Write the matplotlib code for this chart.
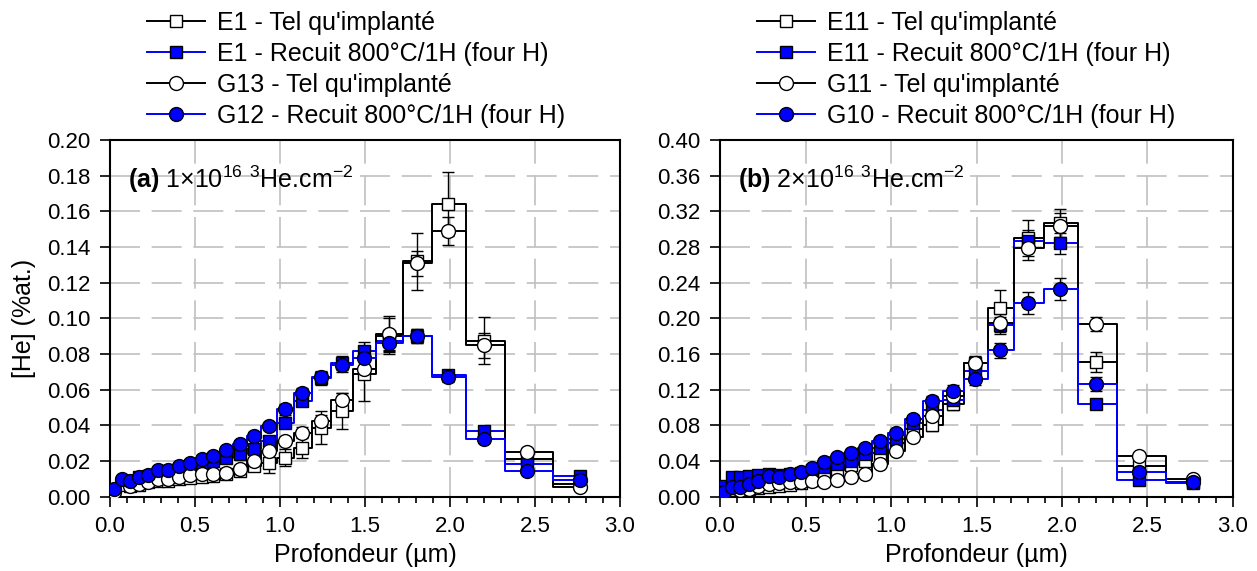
import numpy as np
import matplotlib
matplotlib.use('Agg')
import matplotlib.pyplot as plt
from matplotlib.ticker import MultipleLocator

plt.rcParams['font.family'] = ['Liberation Sans', 'DejaVu Sans']
plt.rcParams['mathtext.fontset'] = 'custom'
plt.rcParams['mathtext.rm'] = 'Liberation Sans'
plt.rcParams['mathtext.bf'] = 'Liberation Sans:bold'

# depth bins (µm), same for every sample
depth = [0.024, 0.069, 0.118, 0.172, 0.225, 0.284, 0.343, 0.408, 0.471, 0.539,
         0.608, 0.682, 0.765, 0.847, 0.935, 1.029, 1.131, 1.241, 1.363, 1.494,
         1.639, 1.804, 1.986, 2.198, 2.451, 2.765]

# (a) 1e16 3He/cm2
e1_impl = [0.0024, 0.007, 0.0062, 0.0067, 0.008, 0.0086, 0.009, 0.0099, 0.0105, 0.0112,
           0.0118, 0.0127, 0.0146, 0.0174, 0.0192, 0.022, 0.0276, 0.0388, 0.0482, 0.0687,
           0.090, 0.132, 0.164, 0.0875, 0.021, 0.007]
e1_impl_err = [0.0005, 0.001, 0.001, 0.001, 0.001, 0.001, 0.001, 0.001, 0.0012, 0.0012,
               0.0012, 0.0013, 0.0015, 0.003, 0.006, 0.005, 0.006, 0.009, 0.010, 0.015,
               0.010, 0.016, 0.018, 0.013, 0.003, 0.002]
e1_rec = [0.0034, 0.008, 0.009, 0.0108, 0.0118, 0.0136, 0.0142, 0.0155, 0.0174, 0.0187,
          0.020, 0.022, 0.0239, 0.0267, 0.0314, 0.0416, 0.0538, 0.0665, 0.075, 0.0818,
          0.0875, 0.090, 0.068, 0.037, 0.0183, 0.0118]
e1_rec_err = [0.0005, 0.001, 0.001, 0.001, 0.001, 0.001, 0.001, 0.001, 0.001, 0.001,
              0.001, 0.0015, 0.0015, 0.002, 0.002, 0.003, 0.003, 0.004, 0.004, 0.005,
              0.005, 0.004, 0.003, 0.002, 0.001, 0.001]
g13_impl = [0.0024, 0.007, 0.0062, 0.0071, 0.008, 0.0099, 0.0099, 0.0112, 0.0123, 0.0127,
            0.0127, 0.0136, 0.0155, 0.0198, 0.0258, 0.0314, 0.036, 0.0426, 0.0542, 0.0715,
            0.0911, 0.131, 0.149, 0.085, 0.0252, 0.0056]
g13_impl_err = [0.0005, 0.001, 0.001, 0.001, 0.001, 0.001, 0.001, 0.001, 0.001, 0.001,
                0.001, 0.001, 0.0012, 0.0015, 0.002, 0.002, 0.003, 0.003, 0.004, 0.005,
                0.010, 0.007, 0.008, 0.007, 0.002, 0.001]
g12_rec = [0.0043, 0.0099, 0.0086, 0.0112, 0.0123, 0.0149, 0.0149, 0.0174, 0.0192, 0.0211,
           0.0230, 0.0261, 0.0295, 0.0342, 0.0394, 0.0491, 0.0579, 0.0669, 0.0739, 0.0777,
           0.0859, 0.0899, 0.0673, 0.0323, 0.0142, 0.0093]
g12_rec_err = [0.0005, 0.001, 0.001, 0.001, 0.001, 0.001, 0.001, 0.001, 0.001, 0.001,
               0.001, 0.0015, 0.0015, 0.002, 0.002, 0.003, 0.003, 0.003, 0.004, 0.004,
               0.004, 0.004, 0.003, 0.002, 0.001, 0.001]

# (b) 2e16 3He/cm2
e11_impl = [0.004, 0.008, 0.008, 0.009, 0.010, 0.011, 0.012, 0.013, 0.015, 0.019,
            0.024, 0.030, 0.036, 0.040, 0.049, 0.060, 0.076, 0.080, 0.104, 0.150,
            0.212, 0.290, 0.307, 0.151, 0.035, 0.017]
e11_impl_err = [0.001, 0.001, 0.001, 0.001, 0.001, 0.001, 0.001, 0.001, 0.001, 0.002,
                0.002, 0.002, 0.003, 0.003, 0.004, 0.004, 0.005, 0.006, 0.007, 0.008,
                0.020, 0.020, 0.016, 0.011, 0.003, 0.002]
e11_rec = [0.012, 0.022, 0.022, 0.023, 0.024, 0.026, 0.024, 0.025, 0.027, 0.030,
           0.033, 0.037, 0.040, 0.048, 0.055, 0.065, 0.083, 0.097, 0.109, 0.141,
           0.192, 0.287, 0.284, 0.104, 0.019, 0.015]
e11_rec_err = [0.001, 0.001, 0.001, 0.001, 0.001, 0.001, 0.001, 0.001, 0.001, 0.002,
               0.002, 0.002, 0.002, 0.003, 0.003, 0.004, 0.005, 0.006, 0.006, 0.007,
               0.010, 0.012, 0.012, 0.006, 0.002, 0.002]
g11_impl = [0.003, 0.009, 0.008, 0.009, 0.012, 0.014, 0.015, 0.016, 0.016, 0.018,
            0.017, 0.019, 0.022, 0.025, 0.037, 0.051, 0.067, 0.090, 0.113, 0.150,
            0.195, 0.279, 0.303, 0.194, 0.046, 0.020]
g11_impl_err = [0.001, 0.001, 0.001, 0.001, 0.001, 0.001, 0.001, 0.001, 0.001, 0.001,
                0.001, 0.001, 0.002, 0.002, 0.003, 0.003, 0.004, 0.005, 0.006, 0.007,
                0.010, 0.014, 0.015, 0.008, 0.003, 0.002]
g10_rec = [0.005, 0.011, 0.0105, 0.014, 0.018, 0.0235, 0.022, 0.025, 0.028, 0.032,
           0.039, 0.045, 0.049, 0.0545, 0.062, 0.071, 0.087, 0.107, 0.119, 0.132,
           0.164, 0.217, 0.233, 0.126, 0.028, 0.016]
g10_rec_err = [0.001, 0.001, 0.001, 0.001, 0.001, 0.001, 0.001, 0.001, 0.001, 0.002,
               0.002, 0.002, 0.002, 0.003, 0.003, 0.004, 0.005, 0.006, 0.006, 0.007,
               0.008, 0.012, 0.012, 0.008, 0.002, 0.002]

panels = [
    {'series': [('E1 - Tel qu\'implanté', e1_impl, e1_impl_err, 's', 'white', 'black'),
                ('E1 - Recuit 800°C/1H (four H)', e1_rec, e1_rec_err, 's', 'blue', 'blue'),
                ('G13 - Tel qu\'implanté', g13_impl, g13_impl_err, 'o', 'white', 'black'),
                ('G12 - Recuit 800°C/1H (four H)', g12_rec, g12_rec_err, 'o', 'blue', 'blue')],
     'ymax': 0.20, 'ystep': 0.02,
     'label': r'$\mathbf{(a)}$ 1×10$^{16}$ $^{3}$He.cm$^{-2}$'},
    {'series': [('E11 - Tel qu\'implanté', e11_impl, e11_impl_err, 's', 'white', 'black'),
                ('E11 - Recuit 800°C/1H (four H)', e11_rec, e11_rec_err, 's', 'blue', 'blue'),
                ('G11 - Tel qu\'implanté', g11_impl, g11_impl_err, 'o', 'white', 'black'),
                ('G10 - Recuit 800°C/1H (four H)', g10_rec, g10_rec_err, 'o', 'blue', 'blue')],
     'ymax': 0.40, 'ystep': 0.04,
     'label': r'$\mathbf{(b)}$ 2×10$^{16}$ $^{3}$He.cm$^{-2}$'},
]

fig = plt.figure(figsize=(12.57, 5.71), dpi=100)
axes = [fig.add_axes([0.0875, 0.130, 0.4057, 0.625]),
        fig.add_axes([0.5728, 0.130, 0.4081, 0.625])]

for ax, p in zip(axes, panels):
    handles = []
    for name, vals, err, mk, face, lc in p['series']:
        ax.errorbar(depth, vals, yerr=err, fmt='none', ecolor='black',
                    elinewidth=1, capsize=4, capthick=1, zorder=2)
        ln, = ax.plot(depth, vals, drawstyle='steps-mid', color=lc, lw=1.4,
                      marker=mk, ms=10 if mk == 'o' else 9, mfc=face, mec='black',
                      mew=1, zorder=3, label=name)
        handles.append(ln)

    ax.set_xlim(0, 3.0)
    ax.set_ylim(0, p['ymax'])
    ax.xaxis.set_major_locator(MultipleLocator(0.5))
    ax.xaxis.set_minor_locator(MultipleLocator(0.1))
    ax.yaxis.set_major_locator(MultipleLocator(p['ystep']))
    ax.xaxis.set_major_formatter(plt.FormatStrFormatter('%.1f'))
    ax.yaxis.set_major_formatter(plt.FormatStrFormatter('%.2f'))
    ax.tick_params(axis='both', which='major', direction='out', length=7, width=1.2,
                   labelsize=16, pad=7, top=False, right=False)
    ax.tick_params(axis='x', which='minor', direction='out', length=4, width=1.2)
    ax.grid(True, which='major', color='#c0c0c0', lw=1.2, linestyle=(0, (18, 7)))
    ax.set_axisbelow(True)
    for s in ax.spines.values():
        s.set_linewidth(1.5)
    ax.set_xlabel('Profondeur (µm)', fontsize=18, labelpad=4)
    ax.text(0.035, 0.89, p['label'], transform=ax.transAxes, fontsize=18,
            va='center', ha='left')
    ax.legend(handles=handles, loc='lower left', bbox_to_anchor=(0.073, 1.033),
              frameon=False, fontsize=18, handlelength=2.3, handletextpad=0.5,
              labelspacing=0.28, borderpad=0, borderaxespad=0, numpoints=1)

axes[0].set_ylabel('[He] (%at.)', fontsize=18, labelpad=8)

plt.savefig('out.png', dpi=100)
